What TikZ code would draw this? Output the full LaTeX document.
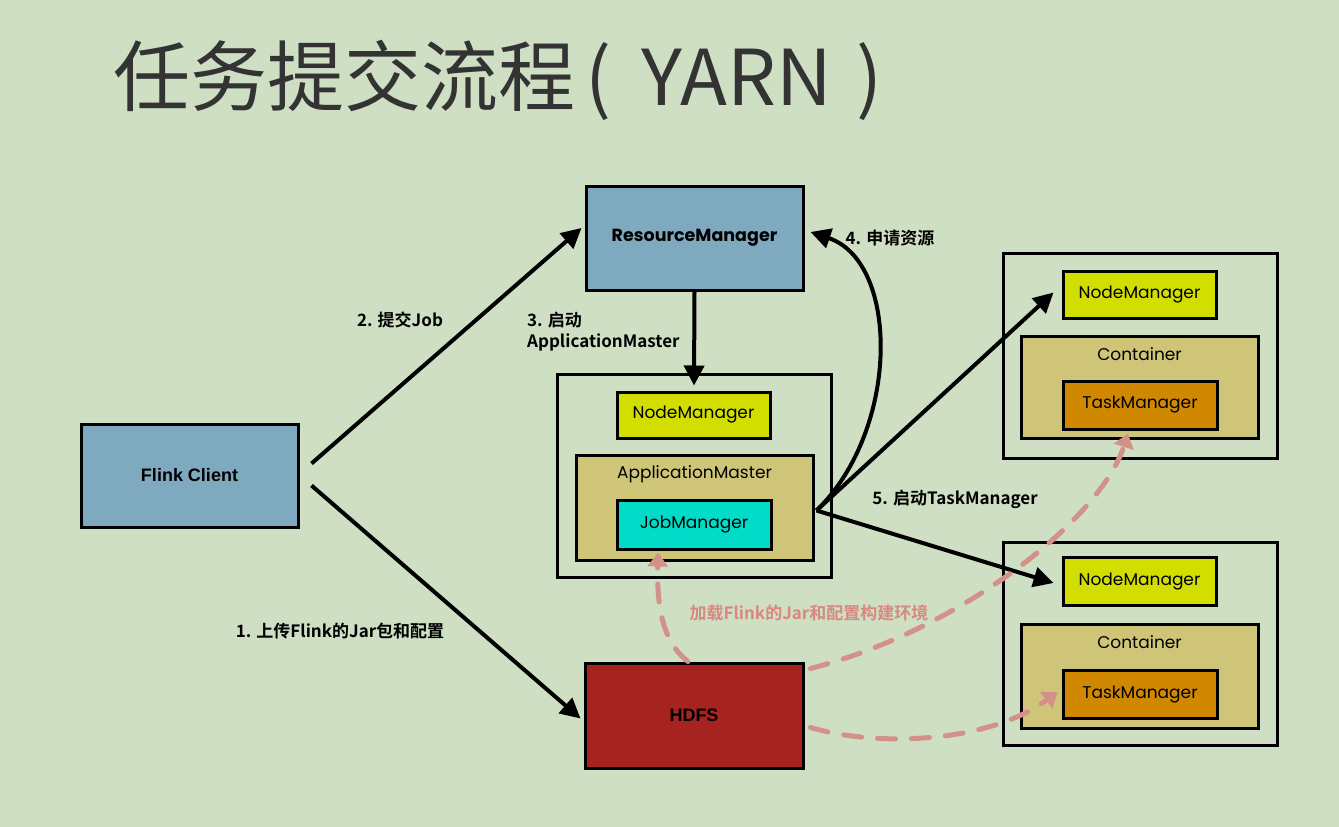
\documentclass[tikz,border=0pt]{standalone}
\usepackage{fontspec}
\setmainfont{Liberation Sans}
\newfontfamily\cjk{Noto Sans CJK SC}
\newfontfamily\cjkb{Noto Sans CJK SC Bold}
\newfontfamily\rnd{Poppins}
\usetikzlibrary{arrows.meta}
\definecolor{bgc}{HTML}{CEDFC4}
\definecolor{bluec}{HTML}{7FA9BF}
\definecolor{redc}{HTML}{A6231F}
\definecolor{yelc}{HTML}{D2DE00}
\definecolor{khac}{HTML}{CFC578}
\definecolor{cyac}{HTML}{00DCC8}
\definecolor{orac}{HTML}{D08800}
\definecolor{pinkc}{HTML}{D4918A}
\definecolor{pinkt}{HTML}{D9877F}
\definecolor{titc}{HTML}{333333}
\tikzset{
  box/.style={draw=black, line width=3pt, inner sep=0pt, minimum width=#1},
  outerbox/.style={draw=black, line width=3pt, inner sep=0pt},
  boxtxt/.style={font=\rnd\fontsize{17}{19}\selectfont},
  lbl/.style={font=\cjkb\fontsize{17}{21}\selectfont, text=black, inner sep=0pt},
  conn/.style={line width=4pt, -{Triangle[length=20pt,width=20pt]}},
  dconn/.style={draw=pinkc, line width=5pt, dash pattern=on 18pt off 16pt, line cap=round, -{Triangle[length=14pt,width=20pt]}},
}
\begin{document}
\begin{tikzpicture}[x=1pt,y=-1pt]
\fill[bgc] (0,0) rectangle (1339,827);
\useasboundingbox (0,0) rectangle (1339,827);
% title
\node[anchor=west, inner sep=0pt, text=titc, font=\cjk\fontsize{77}{80}\selectfont] (title) at (113,80) {任务提交流程\hspace{10pt}(\hspace{30pt}YARN\hspace{24pt})};
% main boxes
\node[box=217pt, minimum height=103pt, fill=bluec, font=\bfseries\fontsize{18}{20}\selectfont] (client) at (189.5,475.5) {Flink Client};
\node[box=217pt, minimum height=104pt, fill=bluec, font=\rnd\bfseries\fontsize{17.5}{19}\selectfont] (rm) at (694.5,238) {ResourceManager};
\node[box=218pt, minimum height=105pt, fill=redc, font=\bfseries\fontsize{18}{20}\selectfont] (hdfs) at (694,715.5) {HDFS};
% middle group
\node[outerbox, minimum width=274pt, minimum height=203pt] (out1) at (694,475.5) {};
\node[box=153pt, minimum height=46pt, fill=yelc, boxtxt] (nm1) at (693.5,415) {NodeManager};
\node[box=237pt, minimum height=105pt, fill=khac] (am) at (694.5,507.5) {};
\node[boxtxt, inner sep=0pt] (amt) at (694.5,474) {ApplicationMaster};
\node[box=154pt, minimum height=49pt, fill=cyac, boxtxt] (jm) at (694,524.5) {JobManager};
% right top group
\node[outerbox, minimum width=274pt, minimum height=205pt] (out2) at (1140,355.5) {};
\node[box=153pt, minimum height=47pt, fill=yelc, boxtxt] (nm2) at (1139.5,294.5) {NodeManager};
\node[box=237pt, minimum height=102pt, fill=khac] (ct2) at (1139.5,387) {};
\node[boxtxt, inner sep=0pt] (ct2t) at (1139.5,354) {Container};
\node[box=154pt, minimum height=48pt, fill=orac, boxtxt] (tm2) at (1140,405) {TaskManager};
% right bottom group
\node[outerbox, minimum width=274pt, minimum height=203pt] (out3) at (1140,643.5) {};
\node[box=153pt, minimum height=48pt, fill=yelc, boxtxt] (nm3) at (1139.5,581) {NodeManager};
\node[box=237pt, minimum height=104pt, fill=khac] (ct3) at (1139.5,676) {};
\node[boxtxt, inner sep=0pt] (ct3t) at (1139.5,642) {Container};
\node[box=154pt, minimum height=48pt, fill=orac, boxtxt] (tm3) at (1140,694) {TaskManager};
% connector anchor points
\coordinate (c1) at ([xshift=12pt,yshift=12pt]client.east);
\coordinate (c2) at ([xshift=12pt,yshift=-10pt]client.east);
\coordinate (amr) at ([xshift=2pt,yshift=-3pt]am.east);
% black connectors
\draw[conn] (c1) -- ([xshift=-3pt,yshift=10pt]rm.west);
\draw[conn] (c2) -- ([xshift=-3pt,yshift=-3pt]hdfs.west);
\draw[conn] (rm.south) -- ([yshift=-13pt]out1.north);
\draw[conn] (amr) .. controls (900,430) and (900,262) .. ([xshift=6pt,yshift=6pt]rm.east);
\draw[conn] (amr) -- ([xshift=-8pt,yshift=2pt]nm2.west);
\draw[conn] (amr) -- ([xshift=-8pt,yshift=-2pt]nm3.west);
% dashed connectors
\draw[dconn] ([xshift=-6pt]hdfs.north) .. controls (660,640) and (657,600) .. ([xshift=-36pt,yshift=-2pt]jm.south);
\draw[dconn] ([xshift=6pt,yshift=47pt]hdfs.east) .. controls (960,630) and (1100,520) .. ([xshift=-12pt,yshift=-3pt]tm2.south);
\draw[dconn] ([xshift=6pt,yshift=-12pt]hdfs.east) .. controls (880,748) and (990,742) .. ([xshift=-4pt,yshift=2pt]tm3.west);
% labels
\node[lbl] (l2) at (400,320) {2. 提交Job};
\node[lbl, anchor=west, align=left] (l3) at (527,332) {3. 启动\\ApplicationMaster};
\node[lbl] (l4) at (890,238) {4. 申请资源};
\node[lbl] (l5) at (955,499) {5. 启动TaskManager};
\node[lbl] (l1) at (340,631) {1. 上传Flink的Jar包和配置};
\node[lbl, text=pinkt] (l6) at (809,613) {加载Flink的Jar和配置构建环境};
\end{tikzpicture}
\end{document}
